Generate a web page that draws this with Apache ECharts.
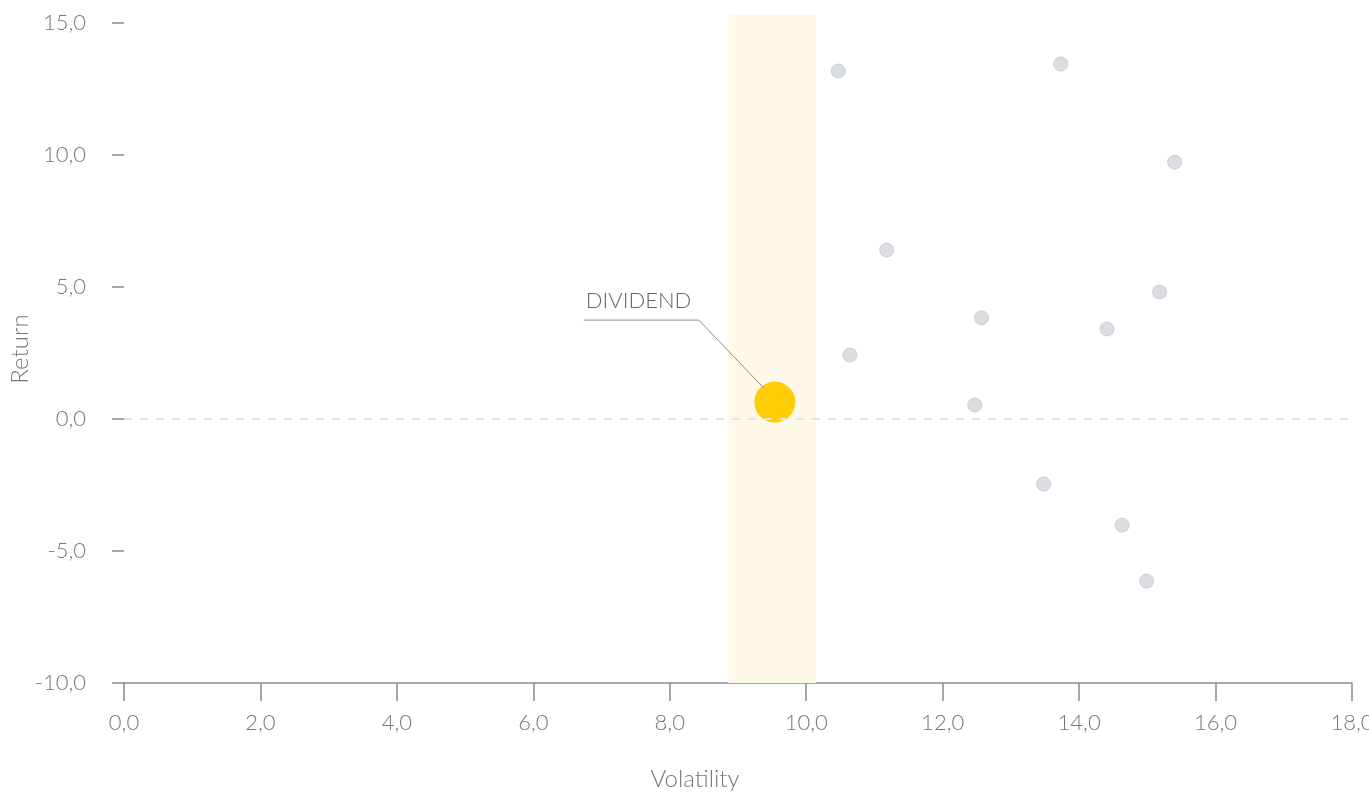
<!DOCTYPE html>
<html>
<head>
<meta charset="utf-8">
<script src="https://cdn.jsdelivr.net/npm/echarts@6/dist/echarts.min.js"></script>
<style>
html,body{margin:0;padding:0;background:#fff;}
#chart{width:1369px;height:793px;}
</style>
</head>
<body>
<div id="chart"></div>
<script>
// Data
var peerVolatility = [10.47, 13.73, 15.40, 11.18, 15.18, 12.57, 14.41, 10.64, 12.47, 13.48, 14.63, 14.99];
var peerReturn     = [13.18, 13.45, 9.73, 6.40, 4.81, 3.83, 3.41, 2.42, 0.53, -2.46, -4.02, -6.14];
var dividendName = 'DIVIDEND';
var dividendVolatility = 9.54;
var dividendReturn = 0.64;
var bandRange = [8.86, 10.14];
var xTicks = [0, 2, 4, 6, 8, 10, 12, 14, 16, 18];
var yTicks = [-10, -5, 0, 5, 10, 15];

var fontFamily = 'Lato, "Noto Sans", sans-serif';
function fmt(v){ return Number(v).toFixed(1).replace('.', ','); }

var peerData = peerVolatility.map(function(v, i){ return [v, peerReturn[i]]; });

var chart = echarts.init(document.getElementById('chart'));
chart.setOption({
  animation: false,
  grid: { left: 124, right: 17, top: 15, bottom: 110, containLabel: false, outerBoundsMode: 'none' },
  xAxis: {
    type: 'value', min: 0, max: 18, interval: 2,
    name: 'Volatility', nameLocation: 'middle', nameGap: 84, nameMoveOverlap: false,
    nameTextStyle: { color: '#777', fontSize: 24, fontFamily: fontFamily, fontWeight: 300, padding: [0, 86, 0, 0] },
    axisLine: { show: true, onZero: false, lineStyle: { color: '#8a8a8a', width: 1.5 } },
    axisTick: { show: true, length: 18, customValues: xTicks, lineStyle: { color: '#8a8a8a', width: 1.5 } },
    axisLabel: { customValues: xTicks, formatter: fmt, color: '#777', fontSize: 22, fontFamily: fontFamily, fontWeight: 300, margin: 29 },
    splitLine: { show: false }
  },
  yAxis: {
    type: 'value', min: -10, max: 15.303, offset: 12,
    name: 'Return', nameLocation: 'middle', nameGap: 80, nameRotate: 90, nameMoveOverlap: false,
    nameTextStyle: { color: '#777', fontSize: 24, fontFamily: fontFamily, fontWeight: 300 },
    axisLine: { show: false },
    axisTick: { show: true, length: 12, customValues: yTicks, lineStyle: { color: '#8a8a8a', width: 1.5 } },
    axisLabel: { customValues: yTicks, formatter: fmt, color: '#777', fontSize: 22, fontFamily: fontFamily, fontWeight: 300, margin: 26 },
    splitLine: { show: false }
  },
  series: [
    {
      type: 'scatter',
      data: peerData,
      symbolSize: 14,
      itemStyle: { color: '#dcdde0', borderColor: '#c7cfd9', borderWidth: 1, opacity: 1 },
      markArea: {
        silent: true,
        itemStyle: { color: '#fef8e8' },
        data: [[{ xAxis: bandRange[0], yAxis: -10 }, { xAxis: bandRange[1], yAxis: 15.303 }]]
      },
      markLine: {
        silent: true, symbol: 'none', label: { show: false },
        lineStyle: { color: '#e2e2e2', type: [8, 8], width: 2 },
        data: [{ yAxis: 0 }]
      },
      z: 3
    },
    {
      type: 'scatter',
      name: dividendName,
      data: [[dividendVolatility, dividendReturn]],
      symbolSize: 41,
      itemStyle: { color: '#ffcc05', opacity: 1 },
      z: 4
    }
  ]
});

// Annotation for the dividend point, positioned relative to its pixel location
var p = chart.convertToPixel({ gridIndex: 0 }, [dividendVolatility, dividendReturn]);
chart.setOption({
  graphic: [
    {
      type: 'polyline', silent: true, z: 10,
      shape: { points: [[p[0] - 191, p[1] - 82], [p[0] - 76, p[1] - 82], [p[0] - 11, p[1] - 14]] },
      style: { stroke: '#8c8c8c', lineWidth: 1, fill: null }
    },
    {
      type: 'text', silent: true, z: 10,
      x: p[0] - 189, y: p[1] - 101,
      style: { text: dividendName, fill: '#666', fontSize: 22, fontFamily: fontFamily, fontWeight: 300, verticalAlign: 'middle', align: 'left' }
    }
  ]
});
</script>
</body>
</html>
